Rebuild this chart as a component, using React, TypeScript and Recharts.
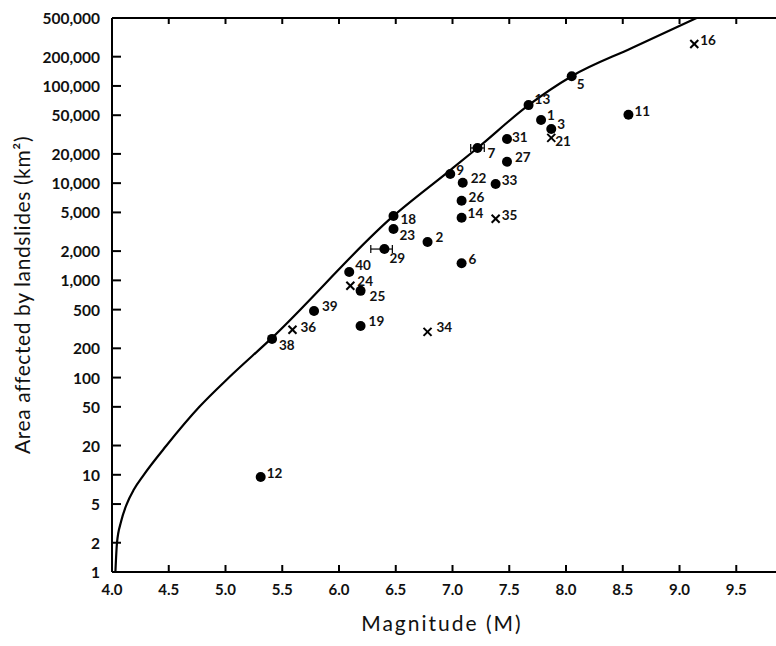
import React from "react";
import { ComposedChart, Line, Scatter, XAxis, YAxis, ErrorBar } from "recharts";

// axis ticks
const xTicks = [4.0, 4.5, 5.0, 5.5, 6.0, 6.5, 7.0, 7.5, 8.0, 8.5, 9.0, 9.5];
const yTicks = [1, 2, 5, 10, 20, 50, 100, 200, 500, 1000, 2000, 5000, 10000, 20000, 50000, 100000, 200000, 500000];

// filled circles
const dotIds = ["1", "2", "3", "5", "6", "7", "9", "11", "12", "13", "14", "18", "19", "22", "23", "25", "26", "27", "29", "31", "33", "38", "39", "40"];
const dotMag = [7.78, 6.78, 7.87, 8.05, 7.08, 7.22, 6.98, 8.55, 5.31, 7.67, 7.08, 6.48, 6.19, 7.09, 6.48, 6.19, 7.08, 7.48, 6.4, 7.48, 7.38, 5.41, 5.78, 6.09];
const dotArea = [44700, 2480, 36000, 126000, 1500, 23000, 12400, 50500, 9.5, 63500, 4400, 4600, 340, 10100, 3380, 780, 6600, 16600, 2100, 28500, 9800, 250, 485, 1220];

// "x" markers
const crossIds = ["16", "21", "24", "34", "35", "36"];
const crossMag = [9.13, 7.87, 6.1, 6.78, 7.38, 5.59];
const crossArea = [270000, 29200, 880, 295, 4300, 310];

// magnitude ranges
const errIds = ["7", "29"];
const errMag = [7.22, 6.4];
const errArea = [23000, 2100];
const errLow = [7.16, 6.28];
const errHigh = [7.28, 6.47];

// upper bound curve
const curveMag = [4.03, 4.044, 4.08, 4.13, 4.194, 4.28, 4.48, 4.77, 5.03, 5.4, 6.48, 6.97, 7.22, 7.67, 8.05, 8.58, 9.15];
const curveArea = [1, 2, 3.3, 5, 7.1, 10, 20, 50, 100, 250, 4600, 13300, 23000, 63500, 126000, 246000, 500000];

// label offset from marker centre, px [dx, dy]
const labelOffset: Record<string, [number, number]> = {
  "1": [6, -5], "2": [8, -5], "3": [6, -5], "5": [5, 8], "6": [7, -4], "7": [10, 5],
  "9": [6, -4], "11": [6, -4], "12": [6, -4], "13": [6, -6], "14": [6, -5], "18": [7, 3],
  "19": [8, -5], "22": [8, -5], "23": [6, 6], "25": [9, 5], "26": [7, -4], "27": [8, -5],
  "29": [5, 9], "31": [5, -2], "33": [6, -4], "38": [7, 6], "39": [8, -5], "40": [6, -7],
  "16": [6, -4], "21": [4, 3], "24": [7, -5], "34": [9, -5], "35": [6, -4], "36": [8, -3],
};

const dots = dotIds.map((id, i) => ({ id, m: dotMag[i], a: dotArea[i] }));
const crosses = crossIds.map((id, i) => ({ id, m: crossMag[i], a: crossArea[i] }));
const errs = errIds.map((id, i) => ({
  id,
  m: errMag[i],
  a: errArea[i],
  err: [errMag[i] - errLow[i], errHigh[i] - errMag[i]],
}));
const curve = curveMag.map((m, i) => ({ m, a: curveArea[i] }));

const FONT = "Lato, 'Noto Sans', sans-serif";

function Label({ x, y, text }: { x: number; y: number; text: string }) {
  return (
    <text x={x} y={y} dominantBaseline="central" fontFamily={FONT} fontSize={13.5} fontWeight={700} fill="#111">
      {text}
    </text>
  );
}

function DotMark(props: any) {
  const { cx, cy, payload } = props;
  const [dx, dy] = labelOffset[payload.id] ?? [7, -5];
  return (
    <g>
      <circle cx={cx} cy={cy} r={5} fill="#000" />
      <Label x={cx + dx} y={cy + dy} text={payload.id} />
    </g>
  );
}

function CrossMark(props: any) {
  const { cx, cy, payload } = props;
  const [dx, dy] = labelOffset[payload.id] ?? [7, -5];
  const s = 4;
  return (
    <g>
      <line x1={cx - s} y1={cy - s} x2={cx + s} y2={cy + s} stroke="#000" strokeWidth={2} />
      <line x1={cx - s} y1={cy + s} x2={cx + s} y2={cy - s} stroke="#000" strokeWidth={2} />
      <Label x={cx + dx} y={cy + dy} text={payload.id} />
    </g>
  );
}

function YTick(props: any) {
  const { x, y, payload } = props;
  return (
    <g>
      <line x1={x + 12} x2={x + 21} y1={y} y2={y} stroke="#000" strokeWidth={2} />
      <text x={x} y={y} textAnchor="end" dominantBaseline="central" fontFamily={FONT} fontSize={15.5} fontWeight={700} fill="#111">
        {payload.value.toLocaleString("en-US")}
      </text>
    </g>
  );
}

function XTick(props: any) {
  const { x, y, payload } = props;
  return (
    <g>
      <line x1={x} x2={x} y1={y} y2={y - 7} stroke="#000" strokeWidth={2} />
      <text x={x} y={y + 17} textAnchor="middle" dominantBaseline="central" fontFamily={FONT} fontSize={15} fontWeight={700} fill="#111">
        {payload.value.toFixed(1)}
      </text>
    </g>
  );
}

function TopTick(props: any) {
  const { x, y } = props;
  return <line x1={x} x2={x} y1={y} y2={y + 6} stroke="#000" strokeWidth={2} />;
}

export default function App() {
  return (
    <div style={{ position: "absolute", left: 0, top: 0, width: 776, height: 646, background: "#fff" }}>
      <ComposedChart width={776} height={646} margin={{ top: 17, right: 0, bottom: 0, left: 0 }}>
        <XAxis
          xAxisId="top"
          orientation="top"
          type="number"
          dataKey="m"
          domain={[4, 9.85]}
          allowDataOverflow
          ticks={xTicks}
          height={1}
          tickSize={0}
          tickMargin={0}
          tick={<TopTick />}
          axisLine={{ stroke: "#000", strokeWidth: 2 }}
          tickLine={false}
        />
        <XAxis
          type="number"
          dataKey="m"
          domain={[4, 9.85]}
          allowDataOverflow
          ticks={xTicks}
          height={74}
          tickSize={0}
          tickMargin={0}
          tick={<XTick />}
          tickLine={false}
          axisLine={{ stroke: "#000", strokeWidth: 2 }}
          label={({ viewBox }: any) => (
            <text
              x={viewBox.x + viewBox.width / 2 - 2}
              y={viewBox.y + 50}
              textAnchor="middle"
              dominantBaseline="central"
              fontFamily={FONT}
              fontSize={21}
              letterSpacing={2}
              fill="#111"
            >
              Magnitude (M)
            </text>
          )}
        />
        <YAxis
          type="number"
          dataKey="a"
          scale="log"
          domain={[1, 500000]}
          allowDataOverflow
          ticks={yTicks}
          width={112}
          tickSize={0}
          tickMargin={12}
          tick={<YTick />}
          tickLine={false}
          axisLine={{ stroke: "#000", strokeWidth: 2 }}
          label={({ viewBox }: any) => {
            const cx = viewBox.x + 21;
            const cy = viewBox.y + viewBox.height / 2;
            return (
              <text
                x={cx}
                y={cy}
                transform={`rotate(-90 ${cx} ${cy})`}
                textAnchor="middle"
                dominantBaseline="central"
                fontFamily={FONT}
                fontSize={21}
                letterSpacing={0.6}
                fill="#111"
              >
                Area affected by landslides (km²)
              </text>
            );
          }}
        />
        <Line
          data={curve}
          dataKey="a"
          type="monotone"
          stroke="#000"
          strokeWidth={2.2}
          dot={false}
          activeDot={false}
          isAnimationActive={false}
        />
        <Scatter data={errs} dataKey="a" shape={() => <g />} isAnimationActive={false}>
          <ErrorBar dataKey="err" direction="x" width={4} stroke="#000" strokeWidth={1.2} />
        </Scatter>
        <Scatter data={dots} dataKey="a" shape={<DotMark />} isAnimationActive={false} />
        <Scatter data={crosses} dataKey="a" shape={<CrossMark />} isAnimationActive={false} />
      </ComposedChart>
    </div>
  );
}
